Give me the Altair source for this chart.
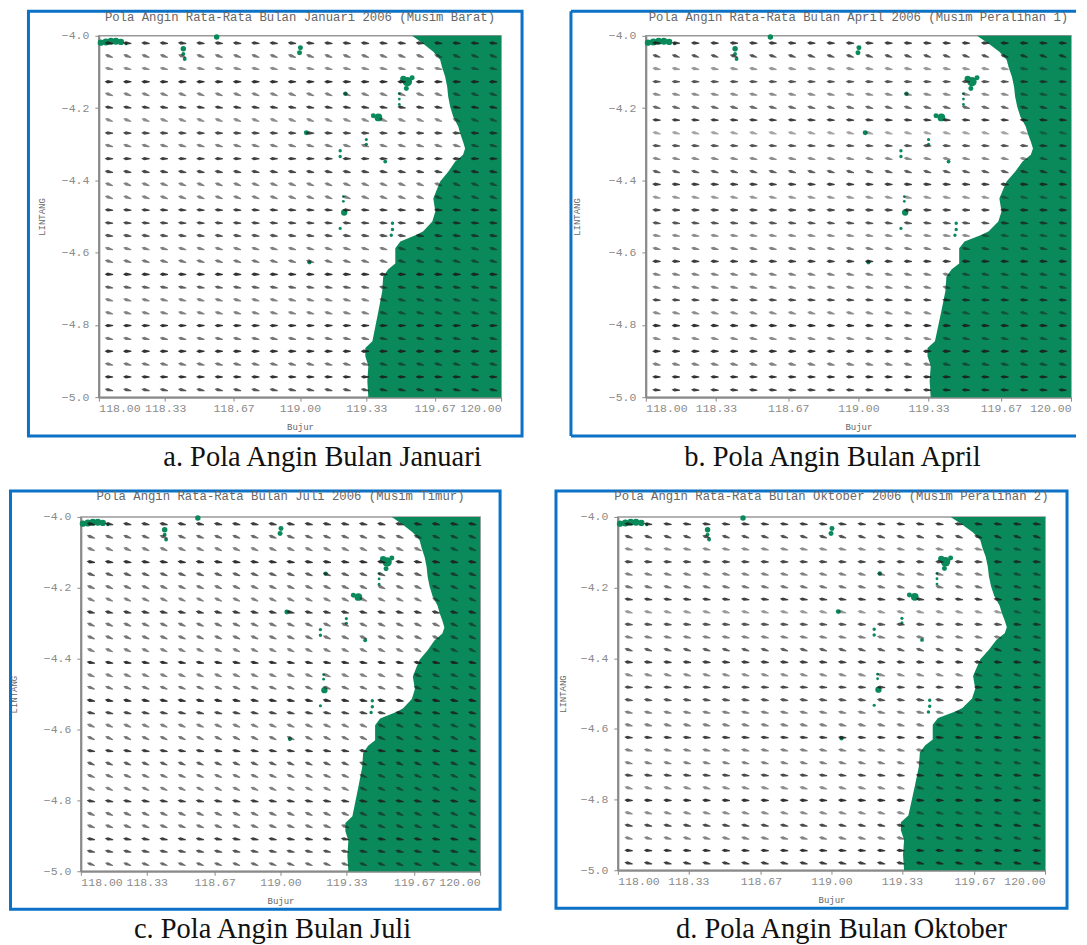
import altair as alt
import pandas as pd

lon_grid = [118.05,118.141,118.232,118.323,118.414,118.505,118.596,118.687,118.778,118.869,118.96,
            119.05,119.141,119.232,119.323,119.414,119.505,119.596,119.687,119.778,119.869,119.96]
lat_grid = [-4.02,-4.056,-4.091,-4.127,-4.162,-4.198,-4.233,-4.269,-4.304,-4.34,-4.376,-4.411,-4.447,-4.482,
            -4.518,-4.553,-4.589,-4.624,-4.66,-4.696,-4.731,-4.767,-4.802,-4.838,-4.873,-4.909,-4.944,-4.98]

# wind direction per row (degrees below horizontal)
dir_jan = [5,20,12,0,18,8,20,3,15,0,10,20,18,3,5,8,15,15,2,10,15,15,0,12,0,15,2,12]
dir_apr = [4,18,10,2,12,15,4,14,3,10,15,3,12,2,6,10,12,2,12,12,4,14,2,12,1,12,2,4]
dir_jul = [10,20,22,8,20,22,24,12,22,22,24,10,22,22,10,12,22,24,10,22,22,24,10,22,20,10,12,20]
dir_okt = [6,18,12,4,14,16,6,14,5,12,16,6,14,4,8,12,14,4,12,14,6,16,4,14,10,14,4,12]

# how heavily each row of arrows prints
ink_jan = [.85,.6,.5,.9,.55,.85,.5,.8,.55,.85,.8,.55,.55,.85,.8,.75,.55,.6,.9,.7,.55,.55,.9,.6,.9,.6,.9,.75]
ink_apr = [.85,.75,.45,.75,.5,.65,.85,.4,.75,.5,.7,.85,.45,.8,.75,.5,.55,.85,.55,.55,.8,.5,.9,.5,.9,.55,.9,.85]
ink_jul = [.85,.65,.55,.9,.7,.6,.55,.85,.6,.6,.55,.9,.55,.6,.9,.8,.55,.6,.85,.7,.6,.55,.85,.6,.6,.85,.75,.65]
ink_okt = [.85,.75,.5,.8,.55,.6,.85,.45,.75,.55,.7,.85,.5,.8,.75,.55,.55,.85,.55,.55,.8,.5,.9,.5,.8,.55,.9,.85]

# coastline: eastern land begins at coast_lon for each coast_lat
coast_lat = [-4.0,-4.022,-4.044,-4.066,-4.088,-4.113,-4.141,-4.168,-4.196,-4.224,-4.251,-4.271,-4.293,-4.312,
             -4.329,-4.348,-4.376,-4.403,-4.423,-4.45,-4.486,-4.514,-4.541,-4.55,-4.569,-4.588,-4.63,-4.646,
             -4.666,-4.707,-4.762,-4.804,-4.845,-4.864,-4.887,-4.914,-4.956,-5.0]
coast_lon = [119.558,119.613,119.663,119.697,119.707,119.722,119.732,119.737,119.747,119.762,119.787,119.797,
             119.811,119.821,119.811,119.772,119.737,119.697,119.682,119.663,119.673,119.658,119.613,119.583,
             119.499,119.474,119.474,119.439,119.414,119.409,119.39,119.375,119.36,119.325,119.325,119.34,
             119.335,119.34]

# small islands
isle_lon = [118.01,118.035,118.06,118.085,118.11,118.135,118.42,118.42,118.427,118.586,119.0025,118.998,
            119.534,119.514,119.558,119.529,119.494,119.494,119.494,119.39,119.365,119.226,119.2,119.2,
            119.33,119.33,119.216,119.216,119.22,119.46,119.46,119.454,119.2,119.032,119.047,119.424]
isle_lat = [-4.019,-4.017,-4.015,-4.015,-4.017,-4.022,-4.036,-4.05,-4.064,-4.003,-4.033,-4.047,
            -4.127,-4.119,-4.116,-4.146,-4.16,-4.175,-4.19,-4.226,-4.221,-4.16,-4.318,-4.334,
            -4.287,-4.30,-4.445,-4.458,-4.489,-4.519,-4.536,-4.552,-4.533,-4.268,-4.627,-4.348]
isle_size = [40,50,50,50,40,10,30,15,15,30,25,25,90,40,25,25,8,8,8,60,25,20,12,12,10,10,8,8,40,12,12,12,10,25,18,15]

x_ticks = [118.0,118.33,118.67,119.0,119.33,119.67,120.0]
y_ticks = [-4.0,-4.2,-4.4,-4.6,-4.8,-5.0]

GREEN = "#0a8a5b"
BLUE = "#0b72c6"
GREY = "#8a8a8a"
MONO = "Liberation Mono"
ARROW = "M-1,0 L-0.3,-0.4 L1,-0.12 L1,0.12 L-0.3,0.4 Z"

coast_df = pd.DataFrame({"lat": coast_lat, "lon": coast_lon, "east": [120.0] * len(coast_lat)})
isle_df = pd.DataFrame({"lon": isle_lon, "lat": isle_lat, "size": isle_size})
one = pd.DataFrame({"n": [0]})


def panel(title, caption, dirs, ink, w, h, frame, cap_x, cap_y, title_y, ytitle_x, closed=True):
    xs = alt.Scale(domain=[118, 120], nice=False, zero=False)
    ys = alt.Scale(domain=[-5, -4], nice=False, zero=False)
    xax = alt.Axis(values=x_ticks, format=".2f", title="Bujur", grid=False, labelFont=MONO, labelFontSize=11.5,
                   labelColor=GREY, labelPadding=1, labelAngle=0, titleFont=MONO, titleFontSize=9,
                   titleFontWeight="normal", titleColor="#666666", titlePadding=9, domainColor=GREY,
                   domainWidth=2, tickColor=GREY, tickSize=4)
    yax = alt.Axis(values=y_ticks, format=".1f", title="LINTANG", grid=False, labelFont=MONO, labelFontSize=11.5,
                   labelColor=GREY, labelPadding=6, titleFont=MONO, titleFontSize=9,
                   titleFontWeight="normal", titleColor="#666666", titleX=ytitle_x, domainColor=GREY,
                   domainWidth=2, tickColor=GREY, tickSize=4)
    land = alt.Chart(coast_df).mark_area(orient="horizontal", color=GREEN, interpolate="linear").encode(
        y=alt.Y("lat:Q", scale=ys, axis=yax),
        x=alt.X("lon:Q", scale=xs, axis=xax),
        x2="east:Q",
    )
    isles = alt.Chart(isle_df).mark_circle(color=GREEN, opacity=1).encode(
        x=alt.X("lon:Q", scale=xs), y=alt.Y("lat:Q", scale=ys),
        size=alt.Size("size:Q", scale=None, legend=None),
    )
    rows = [
        {"lon": lo, "lat": la, "dir": dirs[i], "ink": ink[i]}
        for i, la in enumerate(lat_grid) for lo in lon_grid
    ]
    arrows = alt.Chart(pd.DataFrame(rows)).mark_point(
        shape=ARROW, filled=True, color="#1c1c1c", size=72
    ).encode(
        x=alt.X("lon:Q", scale=xs), y=alt.Y("lat:Q", scale=ys),
        angle=alt.Angle("dir:Q", scale=None),
        opacity=alt.Opacity("ink:Q", scale=None, legend=None),
    )
    left, right, top, bottom = frame
    if closed:
        boxes = [alt.Chart(one).mark_rect(fill="transparent", stroke=BLUE, strokeWidth=3).encode(
            x=alt.value(left), x2=alt.value(right), y=alt.value(top), y2=alt.value(bottom))]
    else:
        boxes = [
            alt.Chart(one).mark_rule(color=BLUE, strokeWidth=3).encode(
                x=alt.value(left), x2=alt.value(right), y=alt.value(top)),
            alt.Chart(one).mark_rule(color=BLUE, strokeWidth=3).encode(
                x=alt.value(left), x2=alt.value(right), y=alt.value(bottom)),
            alt.Chart(one).mark_rule(color=BLUE, strokeWidth=3).encode(
                x=alt.value(left), y=alt.value(top), y2=alt.value(bottom)),
        ]
    head = alt.Chart(one).mark_text(
        text=title, font=MONO, fontSize=12.3, color="#666666", align="center", baseline="middle"
    ).encode(x=alt.value(w / 2), y=alt.value(title_y))
    cap = alt.Chart(one).mark_text(
        text=caption, font="Liberation Serif", fontSize=28.5, color="#111111", align="center", baseline="alphabetic"
    ).encode(x=alt.value(cap_x), y=alt.value(cap_y))
    return alt.layer(land, isles, arrows, *boxes, head, cap).properties(width=w, height=h)


def gap(w, h):
    return alt.Chart(one).mark_rule(opacity=0).encode(x=alt.value(0)).properties(
        width=w, height=h, view=alt.ViewBackground(stroke="transparent"))


a = panel("Pola Angin Rata-Rata Bulan Januari 2006 (Musim Barat)", "a. Pola Angin Bulan Januari",
          dir_jan, ink_jan, 403, 362, (-70.5, 424, -24.5, 401), 224, 431, -18.5, -52)
b = panel("Pola Angin Rata-Rata Bulan April 2006 (Musim Peralihan 1)", "b. Pola Angin Bulan April",
          dir_apr, ink_apr, 426, 362, (-75, 431, -24.5, 401), 187, 431, -18.5, -64, closed=False)
c = panel("Pola Angin Rata-Rata Bulan Juli 2006 (Musim Timur)", "c. Pola Angin Bulan Juli",
          dir_jul, ink_jul, 400, 355, (-70.5, 420, -26, 393), 192, 422, -21, -62)
d = panel("Pola Angin Rata-Rata Bulan Oktober 2006 (Musim Peralihan 2)", "d. Pola Angin Bulan Oktober",
          dir_okt, ink_okt, 428, 354, (-62, 450, -26, 392), 224, 422, -21, -50)

top = alt.hconcat(gap(18, 362), a, gap(145, 362), b, spacing=0, bounds="flush")
bot = alt.hconcat(c, gap(138, 355), d, spacing=0, bounds="flush")
chart = alt.vconcat(top, bot, spacing=482, bounds="flush").properties(
    padding=0
).configure_view(stroke="#999999", strokeWidth=1.5).configure_concat(spacing=0)

chart.save("out.html", embed_options={"renderer": "svg", "actions": False})
